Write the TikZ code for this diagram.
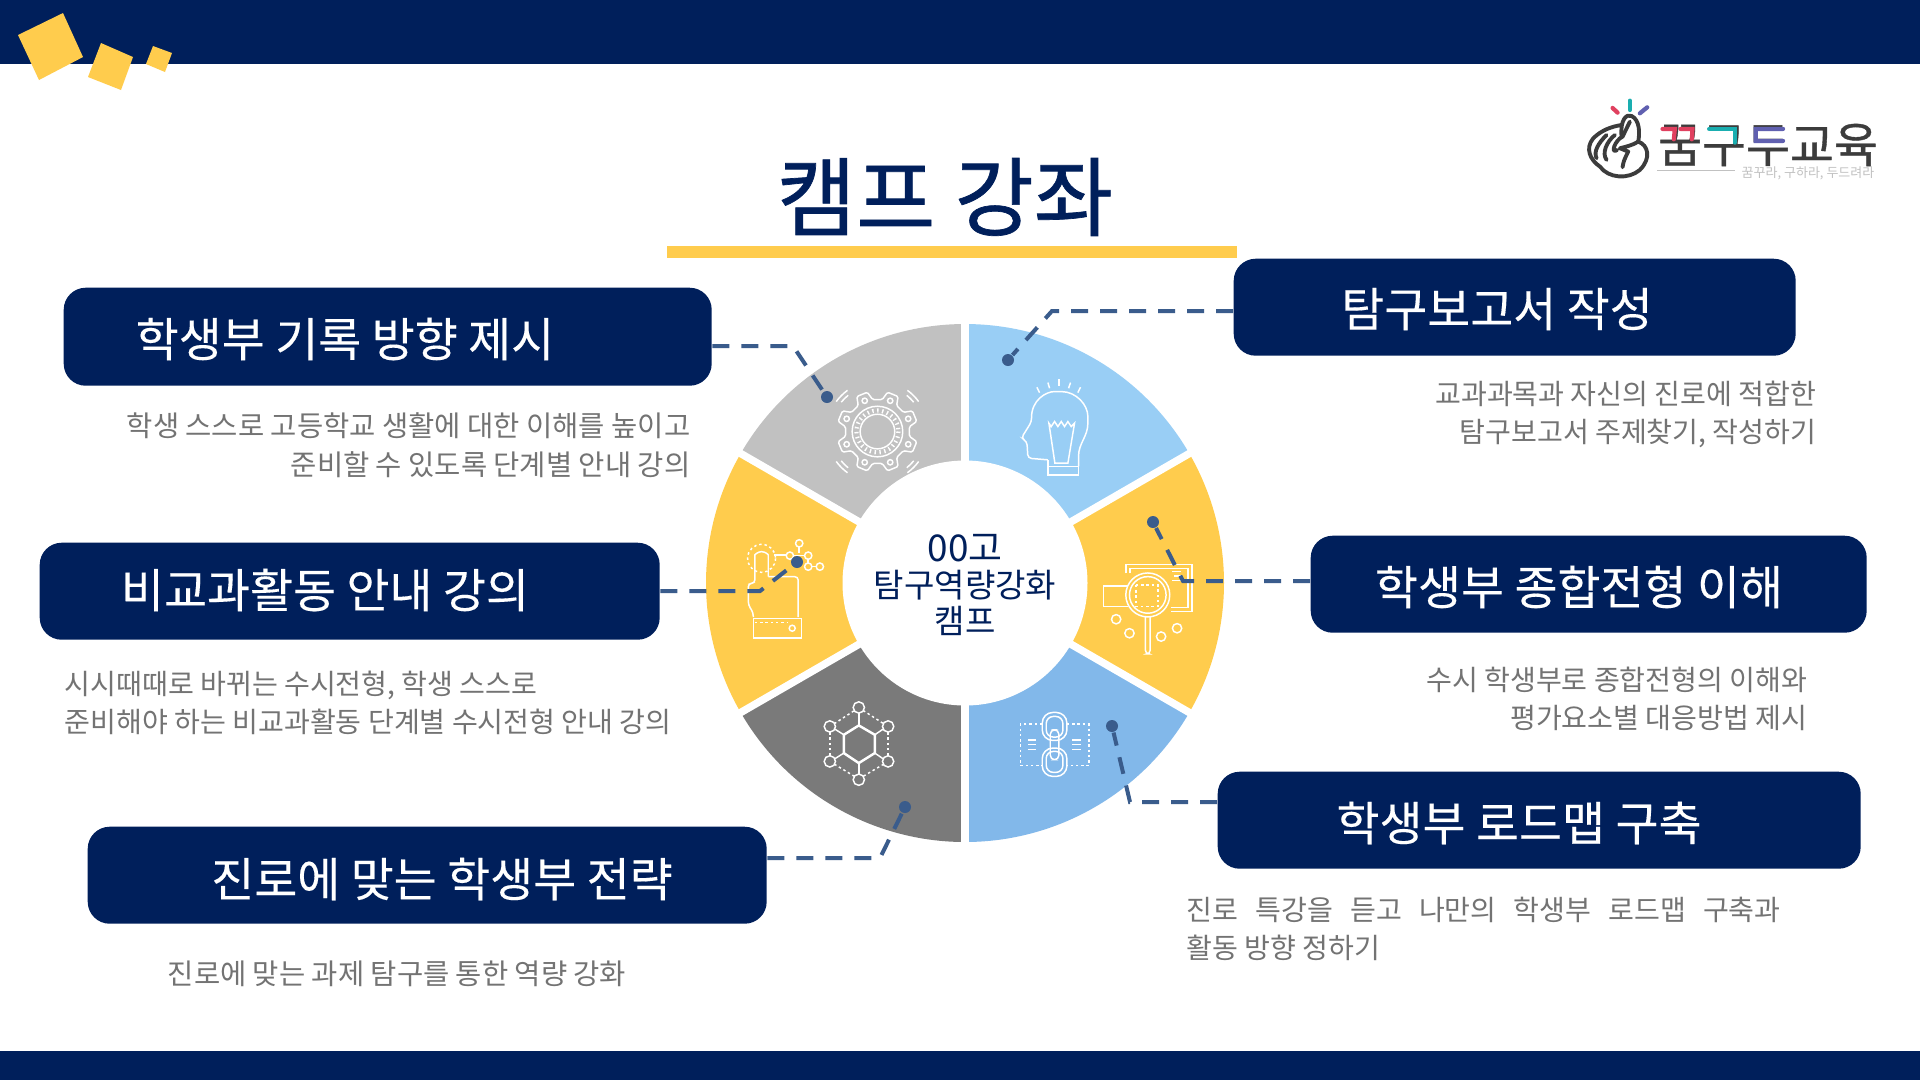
\documentclass[tikz,border=0pt]{standalone}
\usepackage{fontspec}
\usepackage{tikz}
\setmainfont{Noto Sans CJK KR}
\newfontfamily\heavykr[FakeBold=0.8]{Noto Sans CJK KR}
\newfontfamily\mediumkr[FakeBold=0.25]{Noto Sans CJK KR}
\usetikzlibrary{positioning, shapes.misc}
\definecolor{navy}{HTML}{001F5B}
\definecolor{sunny}{HTML}{FFCC4D}
\definecolor{skyblue}{HTML}{99CEF5}
\definecolor{midblue}{HTML}{82B8EA}
\definecolor{softgray}{HTML}{C1C1C1}
\definecolor{darkgray}{HTML}{7A7A7A}
\definecolor{linkblue}{HTML}{3A5C8C}
\definecolor{desc}{HTML}{737373}
\definecolor{logodark}{HTML}{3C3C3C}
\definecolor{logored}{HTML}{E0405F}
\definecolor{logoteal}{HTML}{1AAEB0}
\definecolor{logoblue}{HTML}{6060B0}

\begin{document}
\begin{tikzpicture}[
    x=0.1mm, y=-0.1mm,
    title_box/.style={
        rectangle,
        rounded corners=2.2mm,
        fill=navy,
        anchor=north west,
        inner sep=0pt
    },
    box_text/.style={text=white, font=\mediumkr\fontsize{13.3}{16}\selectfont},
    desc_text/.style={text=desc, font=\fontsize{8.0}{11}\selectfont, inner sep=0pt},
    desc_wide/.style={desc_text, font=\fontsize{8.12}{11}\selectfont},
    pin/.style={circle, fill=linkblue, minimum size=1.2mm, inner sep=0pt},
    link/.style={line width=0.4mm, color=linkblue, dash pattern=on 1.7mm off 1.2mm},
    icon_line/.style={draw=white, line width=0.42pt},
    icon_dots/.style={draw=white, line width=0.42pt, dash pattern=on 0.7pt off 0.8pt},
    zoom_view/.style 2 args={shift={(#1,#2)}, x=0.0333mm, y=-0.0333mm},
    logo_line/.style={draw=logodark, line width=1.1pt, line cap=round, line join=round}
]

\useasboundingbox (0,0) rectangle (1920,1080);
\fill[white] (0,0) rectangle (1920,1080);
\fill[navy] (0,0) rectangle (1920,64);
\fill[navy] (0,1051) rectangle (1920,1080);

\fill[sunny] (18,35) -- (63,13) -- (83,57) -- (39,80) -- cycle;
\fill[sunny] (101,43) -- (133,57) -- (121,90) -- (88,77) -- cycle;
\fill[sunny] (153,46) -- (172,53) -- (165,72) -- (146,64) -- cycle;

\node[text=navy, font=\heavykr\fontsize{24.5}{30}\selectfont] (heading) at (945,197) {캠프 강좌};
\fill[sunny] (667,246) rectangle (1237,258);

\begin{scope}[shift={(965,583)}, x=0.1mm, y=0.1mm]
    \foreach \a/\c in {30/skyblue, -30/sunny, -90/midblue, -150/darkgray, 150/sunny, 90/softgray}
        \fill[\c] (\a:25.9mm) arc[start angle=\a, delta angle=60, radius=25.9mm] -- (0,0) -- cycle;
    \foreach \a in {30,90,150}
        \draw[white, line width=0.75mm] (\a:26.5mm) -- (\a+180:26.5mm);
    \fill[white] (0,0) circle[radius=12.25mm];
\end{scope}
\node[align=center, inner sep=0pt, text=navy, font=\fontsize{9.4}{10.2}\selectfont] (hub) at (965,585) {\fontsize{10.5}{10.2}\selectfont 00고\\탐구역량강화\\캠프};

% gear
\begin{scope}[zoom_view={700}{310}]
    \begin{scope}[shift={(533,365)}]
        \draw[icon_line, rounded corners=0.4pt] (8.5:97) \foreach \a in {22.5,67.5,...,337.5} {
            -- ({\a-14}:97) -- ({\a-8}:122) -- ({\a+8}:122) -- ({\a+14}:97)} -- cycle;
        \draw[icon_line] (0,0) circle[radius=52];
        \draw[icon_line] (0,0) circle[radius=76];
        \draw[draw=white, line width=1.2pt, dash pattern=on 0.4pt off 1pt] (0,0) circle[radius=63];
        \foreach \a in {22.5,67.5,...,337.5}
            \draw[icon_line] (\a:100) circle[radius=8];
        \foreach \a in {45,135,225,315} {
            \draw[icon_line] (\a-6:140) arc[start angle=\a-6, end angle=\a+6, radius=140];
            \draw[icon_line] (\a-9:153) arc[start angle=\a-9, end angle=\a+9, radius=153];
        }
    \end{scope}
    % head and bulb
    \draw[icon_line, rounded corners=1pt] (1045,450) -- (985,445) -- (982,395) -- (965,385) -- (996,335)
        .. controls (995,270) and (1040,245) .. (1075,245)
        .. controls (1130,245) and (1165,285) .. (1165,330)
        .. controls (1165,380) and (1137,400) .. (1137,450) -- (1137,470);
    \draw[icon_line] (1048,340) -- (1066,460) -- (1105,460) -- (1125,340)
        -- (1115,350) -- (1105,335) -- (1095,350) -- (1085,335) -- (1075,350) -- (1065,335) -- (1055,350) -- cycle;
    \draw[icon_line] (1045,450) -- (1045,495) -- (1137,495) -- (1137,470) -- (1045,470);
    \foreach \rx/\ry/\sx/\sy in {1012/232/1020/248, 1045/218/1050/235, 1079/208/1079/228, 1113/218/1107/235, 1143/232/1135/248}
        \draw[icon_line] (\rx,\ry) -- (\sx,\sy);
\end{scope}

\begin{scope}[zoom_view={700}{530}]
    % pointing hand
    \draw[icon_line, rounded corners=1pt] (205,140) -- (205,85) arc[start angle=0, end angle=-180, radius=20]
        -- (165,160) -- (145,160) -- (145,225) -- (160,248) -- (160,262);
    \draw[icon_line, rounded corners=1pt] (205,140) -- (295,140) -- (295,262);
    \draw[icon_line] (160,265) rectangle (305,325);
    \draw[icon_dots] (165,278) -- (265,278);
    \draw[icon_line] (277,295) circle[radius=9];
    \draw[icon_dots] (185,85) circle[radius=42];
    \draw[icon_line] (222,75) -- (258,75);
    \draw[icon_line] (270,77) circle[radius=11];
    \draw[icon_line] (298,40) circle[radius=11];
    \draw[icon_line] (325,77) circle[radius=11];
    \draw[icon_line] (325,110) circle[radius=11];
    \draw[icon_line] (360,110) circle[radius=11];
    \draw[icon_line] (298,51) -- (298,70) (281,77) -- (314,77) (336,110) -- (349,110) (325,88) -- (325,99);
    % network hexagon
    \draw[icon_line, line width=0.7pt] (477,587) -- (525,615) -- (525,670) -- (477,700) -- (432,670) -- (432,615) -- cycle;
    \foreach \ax/\ay/\bx/\by in {477/587/477/550, 525/615/550/598, 525/670/550/687, 477/700/477/733, 432/670/405/687, 432/615/405/598}
        \draw[icon_line] (\ax,\ay) -- (\bx,\by);
    \foreach \ax/\ay/\bx/\by in {490/542/552/582, 565/607/565/678, 552/703/490/740, 464/740/403/703, 390/678/390/607, 403/582/464/542}
        \draw[icon_dots] (\ax,\ay) -- (\bx,\by);
    \foreach \ax/\ay in {477/533, 565/590, 565/695, 477/750, 390/695, 390/590}
        \draw[icon_line] (\ax,\ay) circle[radius=17];
    % chain
    \draw[icon_dots] (1028,583) -- (962,583) -- (962,707) -- (1028,707);
    \draw[icon_dots] (1102,583) -- (1168,583) -- (1168,707) -- (1102,707);
    \foreach \ly in {630,645,660} {
        \draw[icon_line] (985,\ly) -- (1010,\ly);
        \draw[icon_line] (1118,\ly) -- (1143,\ly);
    }
    \draw[icon_line, rounded corners=3pt] (1028,548) rectangle (1102,632);
    \draw[icon_line, rounded corners=2pt] (1040,560) rectangle (1090,622);
    \draw[icon_line, rounded corners=3pt] (1028,655) rectangle (1102,740);
    \draw[icon_line, rounded corners=2pt] (1040,665) rectangle (1090,728);
    \draw[icon_line, rounded corners=1.3pt] (1052,600) rectangle (1078,690);
    % magnifier
    \draw[icon_line] (1280,130) -- (1280,103) -- (1478,103) -- (1478,245) -- (1415,245);
    \draw[icon_line] (1292,130) -- (1292,115) -- (1466,115) -- (1466,233) -- (1415,233);
    \draw[icon_line] (1285,168) -- (1212,168) -- (1212,230) -- (1285,230);
    \draw[icon_line] (1345,195) circle[radius=66];
    \draw[icon_line] (1345,195) circle[radius=55];
    \draw[icon_dots] (1310,165) rectangle (1375,230);
    \draw[icon_line, rounded corners=1pt] (1338,262) -- (1338,372) -- (1352,372) -- (1352,262);
    \draw[icon_line] (1418,125) -- (1445,125) (1425,138) -- (1445,138) (1418,151) -- (1445,151);
    \foreach \ax/\ay in {1250/268, 1290/310, 1385/320, 1433/295}
        \draw[icon_line] (\ax,\ay) circle[radius=14];
\end{scope}

\node[title_box, minimum width=64.8mm, minimum height=9.8mm] (box_record) at (63,287) {};
\node[title_box, minimum width=56.2mm, minimum height=9.7mm] (box_report) at (1233,258) {};
\node[title_box, minimum width=62mm, minimum height=9.7mm] (box_activity) at (39,542) {};
\node[title_box, minimum width=55.6mm, minimum height=9.7mm] (box_review) at (1310,535) {};
\node[title_box, minimum width=67.9mm, minimum height=9.7mm] (box_career) at (87,826) {};
\node[title_box, minimum width=64.3mm, minimum height=9.7mm] (box_roadmap) at (1217,771) {};

\node[box_text] (label_record) at (345,339) {학생부 기록 방향 제시};
\node[box_text] (label_report) at (1497,309) {탐구보고서 작성};
\node[box_text] (label_activity) at (325,590) {비교과활동 안내 강의};
\node[box_text] (label_review) at (1579,587) {학생부 종합전형 이해};
\node[box_text] (label_career) at (442,879) {진로에 맞는 학생부 전략};
\node[box_text] (label_roadmap) at (1519,823) {학생부 로드맵 구축};

\node[desc_wide, anchor=north east, align=right] (desc_record) at (691,412) {학생 스스로 고등학교 생활에 대한 이해를 높이고\\준비할 수 있도록 단계별 안내 강의};
\node[desc_text, anchor=north east, align=right] (desc_report) at (1817,380) {교과과목과 자신의 진로에 적합한\\탐구보고서 주제찾기, 작성하기};
\node[desc_text, anchor=north west, align=left] (desc_activity) at (64,670) {시시때때로 바뀌는 수시전형, 학생 스스로\\준비해야 하는 비교과활동 단계별 수시전형 안내 강의};
\node[desc_text, anchor=north east, align=right] (desc_review) at (1808,666) {수시 학생부로 종합전형의 이해와\\평가요소별 대응방법 제시};
\node[desc_text, anchor=north west, align=left] (desc_roadmap) at (1186,896) {\makebox[59.4mm][s]{진로 특강을 듣고 나만의 학생부 로드맵 구축과}\\활동 방향 정하기};
\node[desc_wide] (desc_career) at (397,974) {진로에 맞는 과제 탐구를 통한 역량 강화};

\node[pin] (pin_record) at (827,397) {};
\node[pin] (pin_report) at (1008,360) {};
\node[pin] (pin_activity) at (797,562) {};
\node[pin] (pin_review) at (1153,522) {};
\node[pin] (pin_roadmap) at (1112,726) {};
\node[pin] (pin_career) at (905,807) {};

\coordinate (bend_record) at (793,346);
\coordinate (bend_report) at (1052,311);
\coordinate (bend_activity) at (760,591);
\coordinate (bend_review) at (1183,581);
\coordinate (bend_roadmap) at (1130,802);
\coordinate (bend_career) at (880,858);

\draw[link] (bend_record -| box_record.east) -- (bend_record) -- (pin_record);
\draw[link] (bend_report -| box_report.west) -- (bend_report) -- (pin_report);
\draw[link] (bend_activity -| box_activity.east) -- (bend_activity) -- (pin_activity);
\draw[link] (bend_review -| box_review.west) -- (bend_review) -- (pin_review);
\draw[link] (bend_roadmap -| box_roadmap.west) -- (bend_roadmap) -- (pin_roadmap);
\draw[link] (bend_career -| box_career.east) -- (bend_career) -- (pin_career);

% logo
\node[text=logodark, font=\heavykr\fontsize{13.6}{16}\selectfont] (logo_name) at (1768,145) {꿈구두교육};
\node[text=softgray, font=\fontsize{3.7}{5}\selectfont] (logo_motto) at (1808,173) {꿈꾸라, 구하라, 두드려라};
\begin{scope}[zoom_view={1540}{80}]
    \draw[logo_line] (245,170) .. controls (240,120) and (260,100) .. (275,108)
        .. controls (300,120) and (300,160) .. (295,185)
        .. controls (325,195) and (335,235) .. (300,270)
        .. controls (265,300) and (205,295) .. (180,260)
        .. controls (150,240) and (135,205) .. (160,175)
        .. controls (185,150) and (215,140) .. (245,135);
    \draw[logo_line] (170,235) .. controls (160,215) and (175,190) .. (200,165);
    \draw[logo_line] (200,240) .. controls (185,220) and (200,185) .. (225,165);
    \draw[logo_line] (232,210) .. controls (210,225) and (225,180) .. (248,170) -- (270,125);
    \draw[logo_line] (295,185) .. controls (280,195) and (260,200) .. (240,205) -- (265,215) .. controls (255,235) and (250,245) .. (248,262);
    \draw[line width=1.2pt, color=logored, line cap=round] (233,98) -- (218,84)
        (368,147) -- (405,147) -- (402,178) (422,147) -- (458,147) -- (456,178);
    \draw[line width=1.2pt, color=logoteal, line cap=round] (270,90) -- (270,62)
        (508,147) -- (585,147) -- (585,188);
    \draw[line width=1.2pt, color=logoblue, line cap=round] (300,100) -- (322,82)
        (730,147) -- (648,147) -- (648,183) -- (730,183);
    \draw[softgray, line width=0.35pt] (352,272) -- (585,272);
\end{scope}

\end{tikzpicture}
\end{document}
